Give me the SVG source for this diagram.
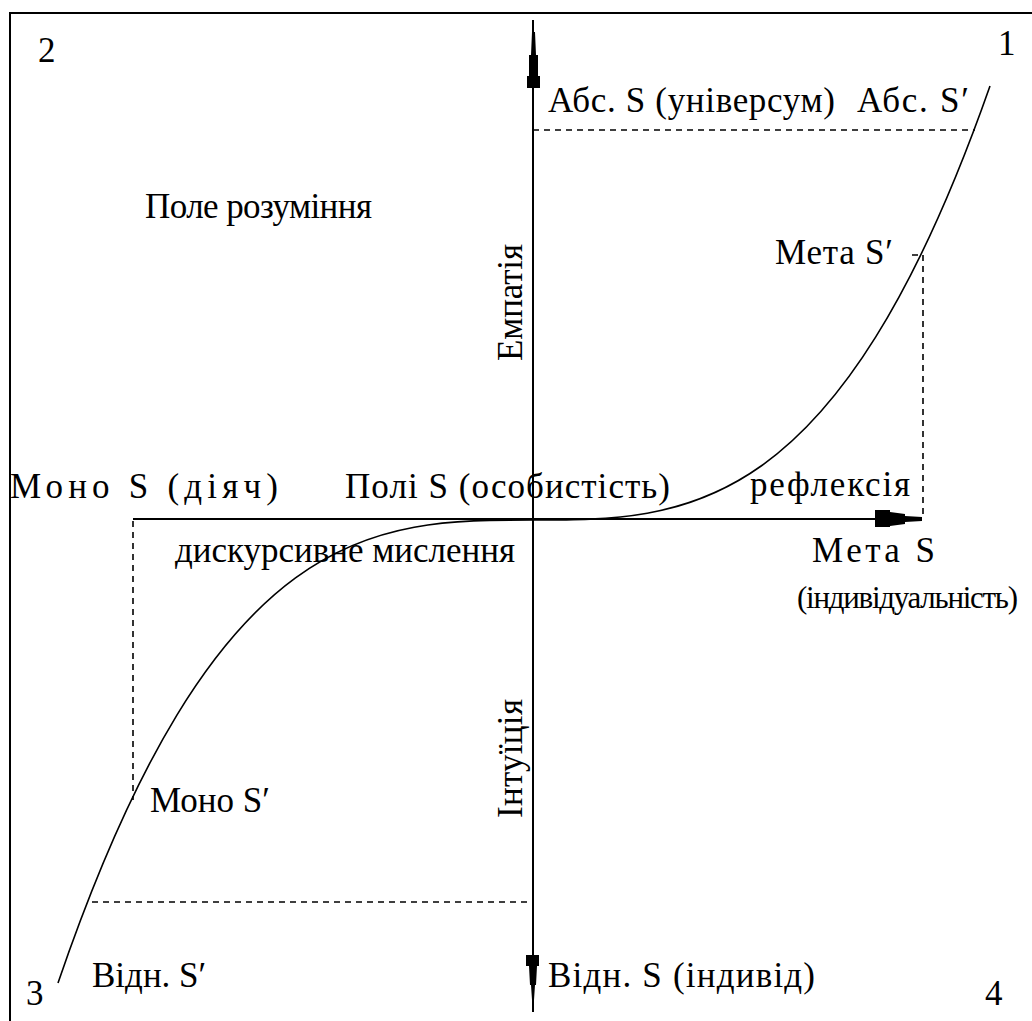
<svg xmlns="http://www.w3.org/2000/svg" width="1032" height="1021" viewBox="0 0 1032 1021">
<style>
.ax{stroke:#000;stroke-width:2;fill:none}
.ds{stroke:#000;stroke-width:1.6;stroke-dasharray:6,5;fill:none}
.cv{stroke:#000;stroke-width:1.6;fill:none}
.ah{fill:#000;stroke:none}
</style>
<rect x="0" y="0" width="1032" height="1021" fill="#fff"/>
<rect x="10" y="13" width="1060" height="1060" fill="none" stroke="#000" stroke-width="2"/>
<g id="connectors">
  <line class="ax" x1="533" y1="20" x2="533" y2="1012"/>
  <line class="ax" x1="133" y1="519" x2="922" y2="519"/>
  <polygon class="ah" points="532,20 534,20 534,32 535,32 536,55 538,55 538,76 540,76 540,88 527,88 527,76 529,76 529,55 531,55 532,32"/>
  <polygon class="ah" points="526,955 539,955 539,966 537,966 536,985 535,985 534,1000 534,1012 532,1012 532,1000 531,985 530,985 529,966 526,966"/>
  <polygon class="ah" points="875,510 890,510 890,512 905,514 905,516 922,517 922,521 905,522 905,524 890,526 890,527 875,527"/>
  <path class="ds" d="M533,130 H975"/>
  <path class="ds" d="M912,255 H923 V517"/>
  <path class="ds" d="M133,521 V800"/>
  <path class="ds" d="M92,902 H533"/>
  <path class="cv" d="M58,983 C216.3,520 374.7,520 533,520 C685.3,520 837.7,520 990,86"/>
</g>
<g font-family="Liberation Serif, DejaVu Serif, Times New Roman, serif" font-size="35" fill="#000">
<g id="corner-labels">
  <text x="38" y="62">2</text>
  <text x="998" y="55">1</text>
  <text x="26" y="1005">3</text>
  <text x="985" y="1005">4</text>
</g>
<g id="node-abs">
  <text x="548" y="112" textLength="287">Абс. S (універсум)</text>
  <text x="857" y="112" textLength="112">Абс. S′</text>
</g>
<g id="node-field"><text x="145" y="218" textLength="227">Поле розуміння</text></g>
<g id="node-meta-prime"><text x="775" y="264" textLength="118">Мета S′</text></g>
<g id="node-empathy"><text transform="translate(522,361) rotate(-90)" textLength="117">Емпатія</text></g>
<g id="node-intuition"><text transform="translate(522,818) rotate(-90)" textLength="119">Інтуїція</text></g>
<g id="node-mono"><text x="10" y="498" textLength="268">Моно S (діяч)</text></g>
<g id="node-poly"><text x="345" y="498" textLength="325">Полі S (особистість)</text></g>
<g id="node-reflex"><text x="750" y="496" textLength="160">рефлексія</text></g>
<g id="node-discursive"><text x="175" y="562" textLength="340">дискурсивне мислення</text></g>
<g id="node-meta">
  <text x="812" y="562" textLength="123">Мета S</text>
  <text x="797" y="608" font-size="31" textLength="221">(індивідуальність)</text>
</g>
<g id="node-mono-prime"><text x="150" y="812" textLength="120">Моно S′</text></g>
<g id="node-vidn-prime"><text x="92" y="987">Відн. S′</text></g>
<g id="node-vidn"><text x="548" y="987" textLength="267">Відн. S (індивід)</text></g>
</g>
</svg>
